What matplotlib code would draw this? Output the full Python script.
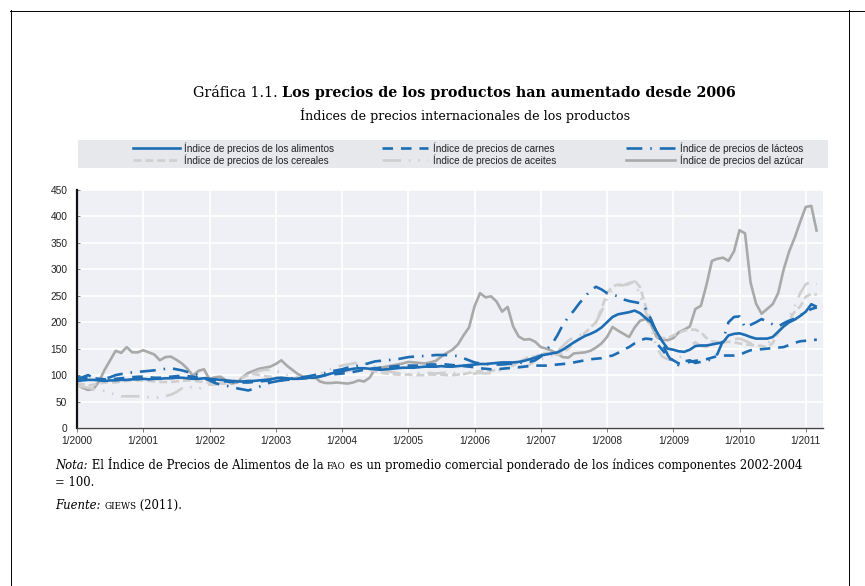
import numpy as np
import matplotlib
matplotlib.use("Agg")
import matplotlib.pyplot as plt
from matplotlib.patches import Rectangle

# Monthly indices, Jan 2000 .. Mar 2011 (2002-2004 = 100)
food = [
    89, 90, 91, 91, 90, 89, 90, 90, 91, 91, 92, 92,
    93, 92, 93, 93, 94, 94, 95, 95, 94, 93, 93, 94,
    93, 92, 91, 90, 89, 88, 88, 89, 89, 90, 91, 92,
    94, 95, 94, 93, 93, 94, 95, 95, 97, 100, 103, 105,
    107, 110, 112, 113, 113, 112, 111, 110, 111, 112, 113, 114,
    114, 114, 115, 116, 116, 116, 117, 116, 116, 117, 118, 119,
    120, 121, 121, 122, 123, 124, 124, 124, 125, 127, 130, 133,
    137, 139, 141, 143, 148, 155, 162, 168, 174, 178, 183, 190,
    200, 210, 215, 217, 219, 222, 217, 208, 200, 182, 164, 150,
    148, 145, 144, 148, 155, 156, 156, 158, 160, 162, 175, 178,
    179, 176, 172, 169, 169, 169, 172, 182, 192, 200, 205, 212,
    220, 234, 229,
]
meat = [
    96, 95, 95, 94, 93, 92, 92, 93, 94, 95, 96, 97,
    97, 96, 95, 95, 96, 97, 98, 99, 98, 97, 95, 93,
    91, 90, 89, 88, 87, 86, 86, 86, 87, 88, 89, 90,
    90, 90, 91, 92, 93, 94, 95, 96, 98, 100, 101, 102,
    103, 104, 106, 108, 110, 112, 113, 114, 115, 116, 117, 118,
    118, 118, 118, 119, 120, 120, 121, 120, 119, 118, 117, 116,
    115, 113, 112, 111, 111, 112, 113, 114, 115, 116, 117, 118,
    118, 118, 119, 120, 121, 122, 124, 126, 128, 130, 131, 132,
    135, 137, 142, 148, 153, 160, 166, 169, 168, 160, 148, 135,
    128, 122, 123, 125, 127, 128, 130, 133, 136, 137, 137, 137,
    138, 143, 147, 148, 149, 150, 151, 152, 153, 157, 161, 164,
    165, 166, 167,
]
dairy = [
    88, 96, 100, 95, 92, 93, 96, 100, 102, 104, 105, 106,
    107, 108, 109, 110, 112, 113, 111, 109, 106, 103, 100, 96,
    90, 85, 82, 80, 78, 75, 73, 71, 74, 78, 82, 86,
    88, 90, 92, 94, 95, 96, 98, 100, 102, 104, 107, 109,
    111, 114, 116, 118, 120, 123, 126, 127, 128, 129, 130, 132,
    134, 135, 136, 136, 137, 138, 138, 138, 137, 136, 132, 128,
    124, 122, 121, 120, 120, 120, 121, 122, 123, 124, 125, 128,
    135, 148, 158, 175, 195, 210, 222, 236, 248, 260, 267, 262,
    255, 252, 249, 243, 240, 238, 236, 225, 205, 180, 160, 138,
    122, 119, 126, 128, 123, 125, 127, 130, 140, 165, 200, 210,
    211, 190, 195, 200, 206, 201, 196, 192, 198, 203, 207, 213,
    219, 225, 228,
]
cereals = [
    85, 83, 80, 82, 84, 86, 86, 86, 88, 89, 90, 90,
    90, 89, 88, 87, 87, 87, 88, 89, 90, 90, 88, 87,
    86, 85, 84, 84, 86, 90, 95, 100, 102, 100, 98, 97,
    96, 95, 94, 93, 93, 94, 93, 95, 97, 100, 102, 104,
    106, 108, 110, 112, 112, 110, 107, 105, 103, 102, 101, 101,
    101, 100, 100, 100, 101, 101, 101, 100, 100, 101, 102, 104,
    106, 108, 108, 108, 110, 112, 115, 118, 125, 130, 135, 135,
    140, 142, 140, 138, 142, 150, 160, 170, 180, 190, 200, 225,
    255, 268, 271, 270, 272, 279, 266, 230, 205, 175, 170, 170,
    175, 180, 184, 186, 186, 181, 170, 164, 162, 162, 163, 162,
    160, 158, 157, 156, 155, 153, 160, 182, 195, 205, 220, 230,
    248, 254, 252,
]
oils = [
    80, 78, 76, 74, 72, 70, 66, 63, 60, 60, 60, 60,
    60, 58, 57, 58, 60, 63, 68, 75, 79, 76, 74, 78,
    82, 82, 84, 86, 88, 92, 96, 100, 104, 108, 110, 110,
    108, 104, 100, 98, 96, 95, 96, 98, 102, 108, 112, 116,
    118, 120, 122, 124, 122, 120, 116, 112, 108, 106, 104, 102,
    102, 103, 104, 104, 104, 103, 104, 105, 104, 103, 102, 102,
    103, 104, 103, 104, 108, 110, 112, 113, 114, 116, 120, 126,
    130, 133, 137, 145, 155, 165, 172, 175, 180, 188, 200, 220,
    245, 262, 270, 270, 274, 277, 250, 220, 190, 152, 135, 130,
    128, 132, 140, 155, 162, 155, 153, 160, 163, 165, 166, 168,
    169, 165, 160, 156, 155, 158, 170, 180, 195, 210, 230, 255,
    272, 276, 272,
]
sugar = [
    82, 76, 72, 74, 88, 110, 128, 146, 142, 153, 143, 143,
    147, 143, 139, 128, 134, 135, 129, 122, 112, 99, 108, 111,
    92, 96, 97, 90, 84, 86, 96, 104, 108, 112, 114, 116,
    121, 128, 118, 110, 102, 97, 97, 97, 88, 85, 85, 86,
    85, 84, 86, 90, 88, 95, 112, 114, 116, 118, 120, 122,
    125, 124, 123, 122, 124, 127, 135, 142, 148, 158, 175, 190,
    230, 255, 247, 249, 239, 220, 229, 192, 173, 167, 168, 163,
    153, 150, 146, 140, 134, 133, 141, 142, 143, 146, 152, 160,
    172, 191, 184, 178, 172, 190, 203, 206, 195, 172, 167, 166,
    170, 181, 186, 192, 225, 231, 270, 316, 320, 322, 316, 334,
    374, 368, 275, 235, 216, 225, 234, 255, 300, 334, 360, 390,
    418, 420, 371,
]

year_ticks = list(range(2000, 2012))
tick_labels = [f"1/{y}" for y in year_ticks]
y_ticks = list(range(0, 451, 50))

BLUE = "#1c6db4"
DGRAY = "#a9a9a9"
LGRAY = "#cfcfcf"

x = 2000 + np.arange(len(food)) / 12.0

styles = [
    ("Índice de precios de los alimentos", food, dict(color=BLUE, lw=1.9, ls="-")),
    ("Índice de precios de carnes", meat, dict(color=BLUE, lw=1.9, ls=(0, (4, 3)))),
    ("Índice de precios de lácteos", dairy, dict(color=BLUE, lw=1.9, ls=(0, (6, 3, 0.6, 3)))),
    ("Índice de precios de los cereales", cereals, dict(color=LGRAY, lw=1.9, ls=(0, (3, 1.5)))),
    ("Índice de precios de aceites", oils, dict(color=LGRAY, lw=1.9, ls=(0, (7, 3, 0.6, 3, 0.6, 3)))),
    ("Índice de precios del azúcar", sugar, dict(color=DGRAY, lw=1.9, ls="-")),
]

W, H = 865, 586
fig = plt.figure(figsize=(W / 100, H / 100), dpi=100)
fig.patch.set_facecolor("white")
bg = fig.add_axes([0, 0, 1, 1])
bg.set_xlim(0, W)
bg.set_ylim(H, 0)
bg.axis("off")
renderer = fig.canvas.get_renderer()

serif = "DejaVu Serif"


def text_run(x0, y, pieces):
    """Draw text pieces one after another on a common baseline."""
    xx = x0
    for s, kw in pieces:
        t = bg.text(xx, y, s, va="baseline", ha="left", family=serif, **kw)
        xx += t.get_window_extent(renderer).width


# page frame
bg.plot([10, 865], [10.5, 10.5], color="black", lw=0.7)
bg.plot([10.5, 10.5], [10, 586], color="black", lw=0.7)
bg.plot([848.5, 848.5], [10, 586], color="black", lw=0.7)

# title
text_run(193, 97, [("Gráfica 1.1. ", dict(fontsize=10.3)),
                   ("Los precios de los productos han aumentado desde 2006",
                    dict(fontsize=10.3, fontweight="bold"))])
bg.text(465, 120, "Índices de precios internacionales de los productos",
        family=serif, fontsize=9.1, ha="center", va="baseline")

# legend band
bg.add_patch(Rectangle((78, 140), 750, 28, facecolor="#e7e8ec", edgecolor="none", zorder=0))
cols = [(133, 180, 184), (382, 428, 433), (626, 675, 680)]
rows = [148, 160]
for i, (label, _, st) in enumerate(styles):
    r, c = divmod(i, 3)
    x0, x1, tx = cols[c]
    yy = rows[r]
    bg.plot([x0, x1], [yy, yy], **st)
    bg.text(tx, yy, label, family="Liberation Sans", fontsize=7.2,
            ha="left", va="center", color="#222222")

# notes
big = dict(fontsize=8.4)
small = dict(fontsize=6.3)
text_run(55, 469, [("Nota:", dict(fontsize=8.4, style="italic")),
                   (" El Índice de Precios de Alimentos de la ", big),
                   ("FAO", small),
                   (" es un promedio comercial ponderado de los índices componentes 2002-2004", big)])
text_run(55, 486, [("= 100.", big)])
text_run(55, 509, [("Fuente:", dict(fontsize=8.4, style="italic")),
                   (" ", big), ("GIEWS", small), (" (2011).", big)])

# axes
ax = fig.add_axes([77 / W, 1 - 428 / H, (823 - 77) / W, (428 - 190) / H])
ax.set_facecolor("#eff0f6")
for label, vals, st in styles[::-1]:
    ax.plot(x, vals, solid_capstyle="butt", dash_capstyle="butt", **st)

ax.set_xlim(2000, 2011.26)
ax.set_ylim(0, 450)
ax.set_xticks(year_ticks)
ax.set_xticklabels(tick_labels)
ax.set_yticks(y_ticks)
ax.grid(True, color="white", lw=1.2)
ax.set_axisbelow(True)
for s in ("top", "right"):
    ax.spines[s].set_visible(False)
ax.spines["left"].set_color("#111111")
ax.spines["left"].set_linewidth(1.6)
ax.spines["bottom"].set_color("#444444")
ax.spines["bottom"].set_linewidth(1.0)
ax.tick_params(axis="x", direction="out", length=3, width=0.6, color="#666666",
               labelsize=7.3, pad=3, labelcolor="#222222")
ax.tick_params(axis="y", direction="in", length=2, width=0.6, color="#666666",
               labelsize=7.3, pad=7, labelcolor="#222222")
for lab in ax.get_xticklabels() + ax.get_yticklabels():
    lab.set_family("Liberation Sans")

fig.savefig("out.png", dpi=100)
